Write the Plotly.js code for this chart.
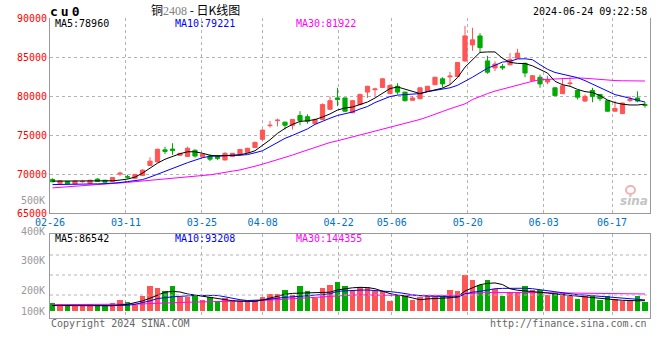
<!DOCTYPE html>
<html>
<head>
<meta charset="utf-8">
<script src="https://cdn.plot.ly/plotly-3.0.1.min.js"></script>
<style>html,body{margin:0;padding:0;background:#fff;}#chart{width:660px;height:360px;}</style>
</head>
<body>
<div id="chart"></div>
<script>
// ---------------- data ----------------
const dates = ['02-26','02-27','02-28','02-29',
 '03-01','03-04','03-05','03-06','03-07','03-08','03-11','03-12','03-13','03-14','03-15',
 '03-18','03-19','03-20','03-21','03-22','03-25','03-26','03-27','03-28','03-29',
 '04-01','04-02','04-03','04-08','04-09','04-10','04-11','04-12','04-15','04-16','04-17','04-18','04-19',
 '04-22','04-23','04-24','04-25','04-26','04-29','04-30',
 '05-06','05-07','05-08','05-09','05-10','05-13','05-14','05-15','05-16','05-17',
 '05-20','05-21','05-22','05-23','05-24','05-27','05-28','05-29','05-30','05-31',
 '06-03','06-04','06-05','06-06','06-07','06-11','06-12','06-13','06-14',
 '06-17','06-18','06-19','06-20','06-21','06-24'];

const tickDates = ['02-26','03-11','03-25','04-08','04-22','05-06','05-20','06-03','06-17'];
const priceTicks = [65000,70000,75000,80000,85000,90000];

const open  = [69300,68800,69050,68720,69000,68800,69350,69200,69050,70000,
               69650,69450,69800,71100,71550,73100,73200,72400,72250,73050,
               72200,72300,72300,71800,72250,72550,72750,73400,74450,76200,
               76850,76650,76250,77500,77350,76450,77000,78300,79750,79750,
               77850,78900,80500,80800,81100,80300,81250,80500,79450,79650,
               80600,81450,82200,82450,82500,84500,86550,87700,84500,83600,
               83800,84000,84850,84200,81950,82400,81800,81050,80300,81600,
               80700,79350,80700,80200,79400,78050,77750,79400,79750,78900];
const high  = [69450,69150,69100,69150,69250,69250,69450,69250,69600,70300,
               69900,70000,70600,72150,73250,73500,73950,72700,73500,73150,
               72600,72500,72450,72800,72700,73200,73350,74150,75700,76800,
               77100,76700,77000,78050,77650,77100,79050,79950,81050,79800,
               79500,80300,81300,81050,82300,81500,81650,80550,80000,81100,
               81300,82450,82400,83100,84350,88980,88750,88050,85150,84450,
               84100,85500,86050,84250,82700,82750,82600,81100,82300,82400,
               80750,80200,81050,80250,79450,79350,79150,80000,80600,79200];
const low   = [68950,68750,68700,68700,68900,68750,69000,68900,69000,69750,
               69400,69400,69750,71050,71500,72550,72450,72350,72200,72100,
               72150,71650,71800,71750,72200,72500,72700,73350,74200,75950,
               76100,75700,75700,76250,76450,76400,76950,78200,78700,78000,
               77800,78800,79750,80000,81050,80250,80200,79300,79400,79600,
               80550,81400,81100,81450,82450,84400,85800,85600,82850,83200,
               83350,83950,84800,82400,81900,81050,81500,80000,80250,81300,
               79550,79250,79200,79350,78000,78000,77700,79250,79200,78500];
const close = [69000,69130,68750,69100,69050,69200,69050,68950,69550,70100,
               69600,69950,70500,71650,73170,72900,73000,72650,73300,72300,
               72550,71900,72000,72650,72650,73150,73300,74050,75630,76250,
               76900,76250,77000,76850,76750,77000,78900,79400,79550,78050,
               79400,80200,81250,80900,82200,81350,80500,79400,79750,81050,
               81250,82400,81550,82550,84300,87700,87200,86200,83050,84100,
               83600,84650,85500,82950,82600,81550,82100,80050,81300,81650,
               79850,79950,79950,79650,78050,78400,79100,79550,79350,78800];

const ma5  = [69090,69090,69090,69090,69090,69090,69090,69090,69130,69220,
              69350,69600,70110,70750,71385,71895,72280,72600,72850,72850,
              72660,72405,72315,72315,72405,72470,72660,72980,73680,74380,
              75210,75850,76360,76740,76830,76970,77310,77700,78200,78460,
              78590,78910,79230,79740,80310,80950,81160,80880,80500,80310,
              80560,80820,81010,81460,82350,83700,84660,85590,85650,85650,
              84830,84320,84180,84160,83860,83450,82940,81880,81450,81250,
              80850,80560,80450,80050,79490,79150,78950,78850,78850,78960];
const ma10 = [68645,68645,68645,68670,68690,68710,68735,68760,68800,68900,
              69030,69150,69280,69600,69980,70365,70680,71060,71450,71770,
              72085,72280,72340,72370,72370,72400,72490,72720,72980,73510,
              74060,74570,74950,75335,75780,76360,76780,77150,77505,77735,
              77950,78330,78650,79160,79545,79930,80110,80180,80180,80310,
              80560,80740,80880,81050,81370,81840,82410,82990,83560,83940,
              84350,84450,84750,84770,84650,84010,83430,83015,82780,82540,
              82350,81970,81520,81075,80600,80180,79950,79735,79440,79221];
const ma30 = [68220,68290,68350,68410,68480,68520,68580,68645,68710,68800,
              68925,69015,69100,69150,69270,69345,69435,69520,69625,69730,
              69830,69895,70045,70240,70365,70520,70810,71000,71255,71535,
              71830,72110,72430,72760,73090,73425,73730,74040,74255,74535,
              74765,75005,75250,75490,75735,75975,76190,76445,76700,76995,
              77310,77700,78015,78360,78650,78995,79545,79950,80310,80630,
              80880,81200,81455,81670,81890,82095,82145,82185,82275,82310,
              82310,82275,82195,82095,82020,81980,81955,81915,81880,81922];

const volume = [69000,61000,52000,61000,52000,61000,43000,43000,69000,95000,
                78000,52000,124000,216000,193000,173000,210000,115000,115000,138000,
                95000,115000,81000,110000,95000,81000,81000,95000,115000,147000,
                147000,176000,138000,216000,173000,110000,193000,225000,245000,216000,
                176000,202000,202000,173000,173000,86000,124000,130000,95000,115000,
                124000,115000,124000,182000,167000,311000,268000,225000,268000,188000,
                124000,162000,162000,216000,182000,182000,138000,153000,153000,124000,
                104000,124000,127000,95000,130000,104000,86000,86000,130000,75000];
const vma5  = [45000,45000,45000,45000,45000,45000,43000,43000,43000,50000,
               55000,70000,85000,108000,135000,160000,167000,162000,145000,135000,
               128000,115000,106000,95000,86000,82000,80000,80000,92000,110000,
               128000,142000,150000,153000,153000,155000,157000,160000,180000,192000,
               198000,202000,200000,190000,170000,148000,135000,126000,110000,95000,
               102000,104000,104000,112000,122000,170000,198000,225000,236000,240000,
               226000,190000,177000,172000,167000,160000,153000,145000,138000,133000,
               130000,118000,112000,105000,100000,95000,90000,86000,86000,86542];
const vma10 = [45000,45000,45000,45000,45000,45000,45000,45000,45000,45000,
               47000,55000,68000,85000,105000,115000,120000,124000,130000,132000,
               132000,132000,132000,120000,105000,95000,88000,88000,93000,100000,
               110000,116000,120000,124000,128000,132000,136000,145000,168000,173000,
               176000,178000,179000,176000,170000,165000,158000,146000,138000,130000,
               124000,124000,124000,122000,116000,145000,160000,167000,178000,190000,
               193000,195000,196000,194000,190000,182000,172000,160000,153000,145000,
               138000,135000,130000,124000,118000,110000,104000,100000,96000,93208];
const vma30 = [52000,52000,52000,52000,52000,52000,52000,52000,52000,52000,
               53000,55000,58000,62000,65000,67000,69000,71000,73000,75000,
               76000,77000,78000,79000,80000,82000,84000,86000,89000,92000,
               95000,98000,101000,104000,109000,114000,119000,124000,128000,132000,
               135000,138000,136000,134000,133000,132000,131000,131000,130000,130000,
               130000,130000,130000,130000,130000,145000,153000,155000,157000,158000,
               158000,158000,158000,158000,157000,156000,155000,154000,153000,152000,
               150000,149000,147000,146000,146000,145000,145000,144500,144500,144355];

const volAxisLabels = ['500K','400K','300K','200K','100K'];

// ---------------- styling / layout ----------------
const W = 660, H = 360;
const fx = px => px / W;
const fy = px => 1 - px / H;
const RED = '#ff5555', GREEN = '#00aa00';
const MONO = 'DejaVu Sans Mono, Liberation Mono, monospace';
const last = a => a[a.length - 1];

const idx = dates.map((d, i) => i);
const n = dates.length;
// the date grid of the original is spread over the full panel width
const tickvals = tickDates.map(d => dates.indexOf(d) * n / (n - 1) - 1 / 3);
const xRange = [-1 / 3, n - 1 / 3];

const traces = [
  {type: 'candlestick', x: idx, open: open, high: high, low: low, close: close,
   xaxis: 'x', yaxis: 'y', whiskerwidth: 0, hoverinfo: 'skip',
   increasing: {line: {color: RED, width: 1}, fillcolor: RED},
   decreasing: {line: {color: GREEN, width: 1}, fillcolor: GREEN}},
  {type: 'scatter', mode: 'lines', x: idx, y: ma30, xaxis: 'x', yaxis: 'y', line: {color: '#ff00ff', width: 1}, hoverinfo: 'skip'},
  {type: 'scatter', mode: 'lines', x: idx, y: ma10, xaxis: 'x', yaxis: 'y', line: {color: '#0000ff', width: 1}, hoverinfo: 'skip'},
  {type: 'scatter', mode: 'lines', x: idx, y: ma5, xaxis: 'x', yaxis: 'y', line: {color: '#000000', width: 1}, hoverinfo: 'skip'},
  {type: 'bar', x: idx, y: volume, xaxis: 'x2', yaxis: 'y2', width: 0.76,
   marker: {color: idx.map(i => close[i] >= open[i] ? RED : GREEN), line: {width: 0}}, hoverinfo: 'skip'},
  {type: 'scatter', mode: 'lines', x: idx, y: vma30, xaxis: 'x2', yaxis: 'y2', line: {color: '#ff00ff', width: 1}, hoverinfo: 'skip'},
  {type: 'scatter', mode: 'lines', x: idx, y: vma10, xaxis: 'x2', yaxis: 'y2', line: {color: '#0000ff', width: 1}, hoverinfo: 'skip'},
  {type: 'scatter', mode: 'lines', x: idx, y: vma5, xaxis: 'x2', yaxis: 'y2', line: {color: '#000000', width: 1}, hoverinfo: 'skip'}
];

const gridStyle = {showgrid: true, gridcolor: '#b4b4b4', griddash: 'dot', gridwidth: 1};

function ann(text, x, y, xanchor, color, size, extra) {
  return Object.assign({text: text, x: fx(x), y: fy(y), xref: 'paper', yref: 'paper',
    xanchor: xanchor, yanchor: 'middle', showarrow: false, borderpad: 0,
    font: {family: MONO, size: size, color: color}}, extra || {});
}

const volLabelY = [200, 231.5, 260, 290.5, 311];

const annotations = [
  ann("<b><span style='letter-spacing:3px'>cu0</span></b>", 49, 11, 'left', '#000', 13),
  ann("铜<span style='font-family:Liberation Serif;color:#808080'>2408</span> - 日K线图", 195, 9, 'center', '#000', 12,
      {font: {family: 'Noto Sans CJK SC, sans-serif', size: 12, color: '#000'}}),
  ann('2024-06-24 09:22:58', 648, 12, 'right', '#000', 10),
  ann('MA5:' + last(ma5), 54, 24, 'left', '#000', 10),
  ann('MA10:' + last(ma10), 174, 24, 'left', '#0000ff', 10),
  ann('MA30:' + last(ma30), 295, 24, 'left', '#ff00ff', 10),
  ann('MA5:' + last(vma5), 54, 238.5, 'left', '#000', 10),
  ann('MA10:' + last(vma10), 174, 238.5, 'left', '#0000ff', 10),
  ann('MA30:' + last(vma30), 295, 238.5, 'left', '#ff00ff', 10),
  ann('Copyright 2024 SINA.COM', 50, 323.5, 'left', '#666', 10),
  ann('http://finance.sina.com.cn', 648, 323.5, 'right', '#666', 10),
  ann('<b><i>sina</i></b>', 634, 201, 'center', '#c4c4c4', 12, {font: {family: 'DejaVu Sans, sans-serif', size: 12, color: '#c4c4c4'}})
].concat(volAxisLabels.map((t, i) => ann(t, 46, volLabelY[i], 'right', '#999', 10)));

const shapes = [255, 275, 295].map(py => ({type: 'line', xref: 'paper', yref: 'paper',
  x0: fx(50), x1: fx(650), y0: fy(py), y1: fy(py), line: {color: '#b4b4b4', width: 1, dash: 'dot'}}));
shapes.push({type: 'circle', xref: 'paper', yref: 'paper', x0: fx(626), x1: fx(635), y0: fy(194), y1: fy(186),
  line: {color: '#f2b0b0', width: 2}, fillcolor: 'rgba(0,0,0,0)'});

const layout = {
  width: W, height: H, margin: {l: 0, r: 0, t: 0, b: 0, pad: 0},
  paper_bgcolor: '#fff', plot_bgcolor: '#fff', showlegend: false, hovermode: false,
  boxgap: 0.2, bargap: 0,
  xaxis: Object.assign({domain: [fx(50), fx(650)], anchor: 'y', range: xRange, type: 'linear',
    tickmode: 'array', tickvals: tickvals, ticktext: tickDates, ticks: '',
    tickfont: {family: MONO, size: 10, color: '#0070c8'},
    showline: true, linecolor: '#999', linewidth: 1, zeroline: false,
    rangeslider: {visible: false}, fixedrange: true}, gridStyle),
  yaxis: Object.assign({domain: [fy(213), fy(18)], anchor: 'x', range: [65000, 90000],
    tickmode: 'array', tickvals: priceTicks, ticktext: priceTicks.map(String), ticks: '',
    tickfont: {family: MONO, size: 10, color: '#ff0000'},
    showline: true, mirror: true, linecolor: '#999', linewidth: 1, zeroline: false, fixedrange: true}, gridStyle),
  xaxis2: Object.assign({domain: [fx(50), fx(650)], anchor: 'y2', range: xRange, type: 'linear',
    tickmode: 'array', tickvals: tickvals, showticklabels: false, ticks: '',
    showline: true, mirror: true, linecolor: '#999', linewidth: 1, zeroline: false, fixedrange: true}, gridStyle),
  yaxis2: {domain: [fy(318), fy(234)], anchor: 'x2', range: [-63000, 663000],
    showticklabels: false, showgrid: false, ticks: '', showline: true, mirror: true,
    linecolor: '#999', linewidth: 1, zeroline: false, fixedrange: true},
  annotations: annotations,
  shapes: shapes
};

Plotly.newPlot('chart', traces, layout, {staticPlot: true, displayModeBar: false});
</script>
</body>
</html>
